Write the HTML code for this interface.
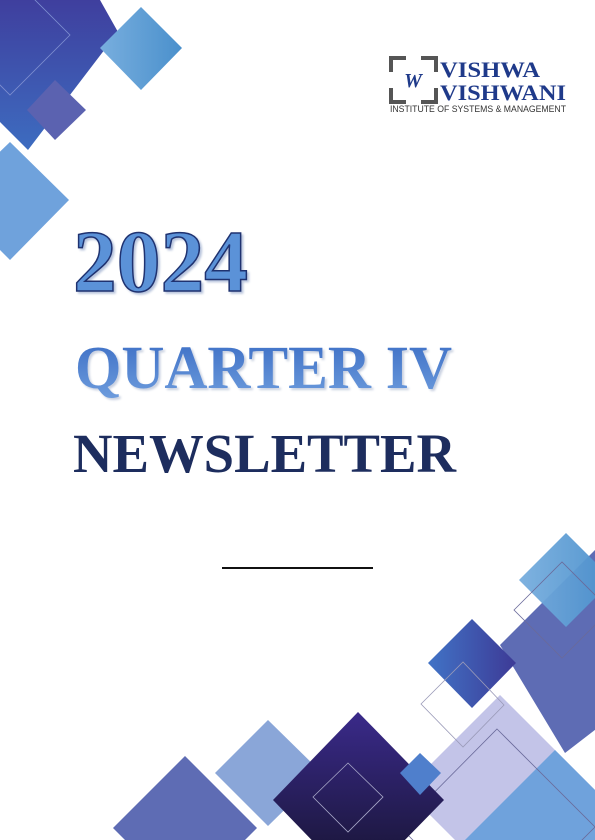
<!DOCTYPE html>
<html><head><meta charset="utf-8"><style>
html,body{margin:0;padding:0;background:#fff;width:595px;height:840px;overflow:hidden}
svg{display:block}
</style></head><body>
<svg width="595" height="840" viewBox="0 0 595 840" xmlns="http://www.w3.org/2000/svg">
<defs>
<linearGradient id="gDark" x1="0" y1="0" x2="0" y2="1"><stop offset="0" stop-color="#3f3f9e"/><stop offset="1" stop-color="#3d6cc0"/></linearGradient>
<linearGradient id="gLight" x1="0" y1="0" x2="1" y2="0"><stop offset="0" stop-color="#78aede"/><stop offset="1" stop-color="#4a90cc"/></linearGradient>
<linearGradient id="gNavy" x1="0" y1="0" x2="0" y2="1"><stop offset="0" stop-color="#3a2a8a"/><stop offset="1" stop-color="#14122a"/></linearGradient>
<linearGradient id="gMid" x1="0" y1="0" x2="1" y2="0"><stop offset="0" stop-color="#4173c6"/><stop offset="1" stop-color="#3d3a96"/></linearGradient>
<linearGradient id="gQ" x1="0" y1="0" x2="0" y2="1"><stop offset="0" stop-color="#3a6cc4"/><stop offset="1" stop-color="#6f9ede"/></linearGradient>
</defs>
<g>
<polygon points="-10,0 100,0 118,32 28,150 -90,32" fill="url(#gDark)"/>
<polygon points="70,35 10,95 -50,35 10,-25" fill="none" stroke="#7f8fd0" stroke-width="0.8"/>
<polygon points="100,48 141,7 182,48 141,90" fill="url(#gLight)"/>
<polygon points="27,110 55,80 86,110 55,140" fill="#5b62b0"/>
<polygon points="10,142 69,200 10,260 -50,200" fill="#6fa2dc"/>
</g>
<g>
<polygon points="500,645 640,505 705,645 565,753" fill="#5e6cb4"/>
<polygon points="500,695 595,790 500,885 405,790" fill="#c3c4e8"/>
<polygon points="555,750 645,840 555,930 465,840" fill="#6fa2dc"/>
<polygon points="497,729 595,827 497,925 400,827" fill="none" stroke="#6a6a9a" stroke-width="0.8"/>
<polygon points="566,533 613,580 566,627 519,580" fill="url(#gLight)" opacity="0.95"/>
<polygon points="514,610 562,562 610,610 562,658" fill="none" stroke="#6a6a9a" stroke-width="0.8"/>
<polygon points="428,663 472,619 516,663 472,708" fill="url(#gMid)"/>
<polygon points="421,704 463,662 504,705 463,747" fill="none" stroke="#9a9ab8" stroke-width="0.8"/>
<polygon points="268,720 322,773 268,826 215,773" fill="#8aa6d8"/>
<polygon points="358,712 444,800 358,888 273,800" fill="url(#gNavy)"/>
<polygon points="313,797 348,763 383,797 348,832" fill="none" stroke="#a8a8c8" stroke-width="0.8"/>
<polygon points="400,773 420,753 441,773 420,795" fill="#4f7fcc"/>
<polygon points="185,756 257,828 185,900 113,828" fill="#5e6cb4"/>
</g>
<g>
<path d="M391,72 V58 H406 M421,58 H436 V72 M436,88 V102 H421 M406,102 H391 V88" fill="none" stroke="#555" stroke-width="4"/>
<text x="413" y="87" font-family="Liberation Serif" font-style="italic" font-weight="bold" font-size="20" fill="#1f3a8a" text-anchor="middle">W</text>
<text x="440" y="77" font-family="Liberation Serif" font-weight="bold" font-size="22" fill="#1f3a8a" textLength="100" lengthAdjust="spacingAndGlyphs">VISHWA</text>
<text x="440" y="100" font-family="Liberation Serif" font-weight="bold" font-size="22" fill="#1f3a8a" textLength="126" lengthAdjust="spacingAndGlyphs">VISHWANI</text>
<text x="390" y="112" font-family="Liberation Sans" font-size="9" fill="#333" textLength="176" lengthAdjust="spacingAndGlyphs">INSTITUTE OF SYSTEMS &amp; MANAGEMENT</text>
</g>
<text x="73" y="291" font-family="Liberation Serif" font-weight="bold" font-size="88" fill="#5b92d8" stroke="#1f3270" stroke-width="1.5" textLength="175" lengthAdjust="spacingAndGlyphs" style="filter:drop-shadow(2px 2px 1px #b8c4dc)">2024</text>
<text x="75" y="388" font-family="Liberation Serif" font-weight="bold" font-size="61" fill="url(#gQ)" textLength="377" lengthAdjust="spacingAndGlyphs" style="filter:drop-shadow(2px 2px 1px #c8d0e0)">QUARTER IV</text>
<text x="73" y="472" font-family="Liberation Serif" font-weight="bold" font-size="55" fill="#1d2d5e" textLength="383" lengthAdjust="spacingAndGlyphs">NEWSLETTER</text>
<line x1="222" y1="568" x2="373" y2="568" stroke="#111" stroke-width="2"/>
</svg>
</body></html>
